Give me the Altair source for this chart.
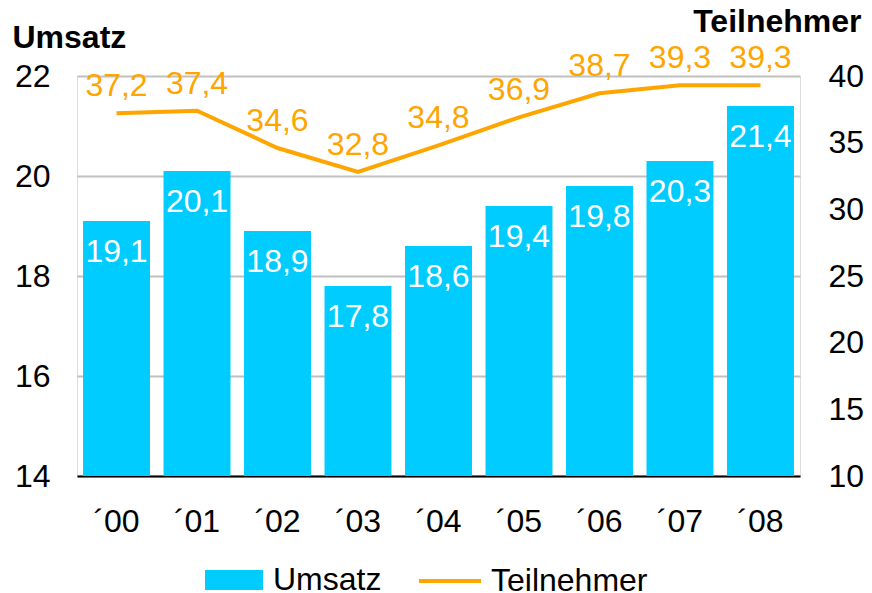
import altair as alt
import pandas as pd

years = ["´00", "´01", "´02", "´03", "´04", "´05", "´06", "´07", "´08"]
umsatz = [19.1, 20.1, 18.9, 17.8, 18.6, 19.4, 19.8, 20.3, 21.4]
teilnehmer = [37.2, 37.4, 34.6, 32.8, 34.8, 36.9, 38.7, 39.3, 39.3]

df = pd.DataFrame({
    "year": years,
    "umsatz": umsatz,
    "teilnehmer": teilnehmer,
    "s1": ["Umsatz"] * len(years),
    "s2": ["Teilnehmer"] * len(years),
})

FONT = "Liberation Sans"
FS = 32
CYAN = "#00CCFF"
ORANGE = "#FFA500"

base = alt.Chart(df).transform_calculate(
    ulab="replace(format(datum.umsatz, '.1f'), '.', ',')",
    tlab="replace(format(datum.teilnehmer, '.1f'), '.', ',')",
)

x = alt.X("year:N", sort=years, title=None,
          scale=alt.Scale(paddingInner=0.168, paddingOuter=0.075),
          axis=alt.Axis(labelAngle=0, labelFontSize=FS, labelColor="black",
                        labelPadding=30, ticks=False, domainColor="black",
                        domainWidth=2, labelFont=FONT))

yl_scale = alt.Scale(domain=[14, 22], zero=False, nice=False)
yl = alt.Y("umsatz:Q", scale=yl_scale,
           axis=alt.Axis(title="Umsatz", titleAngle=0, titleAlign="left",
                         titleBaseline="middle", titleX=-65, titleY=-39,
                         titleFontSize=FS, titleFontWeight="bold", titleFont=FONT,
                         titleLimit=400,
                         values=[14, 16, 18, 20, 22], grid=True,
                         gridColor="#c0c0c0", gridWidth=2, domain=False,
                         ticks=False, labelFontSize=FS, labelPadding=27,
                         labelColor="black", labelFont=FONT))

bars = base.mark_bar(color=CYAN).encode(
    x=x,
    y=yl,
    y2=alt.datum(14),
    fill=alt.Fill("s1:N", scale=alt.Scale(domain=["Umsatz"], range=[CYAN]),
                  legend=alt.Legend(title=None, orient="none", legendX=128,
                                    legendY=475, symbolType="M-1,-0.345H1V0.345H-1Z",
                                    symbolSize=3364, symbolStrokeWidth=0,
                                    labelFontSize=FS, labelFont=FONT,
                                    labelColor="black", labelOffset=10,
                                    labelLimit=400, padding=0)),
)

bar_text = base.mark_text(color="white", fontSize=FS, font=FONT,
                          baseline="middle", dy=31).encode(
    x=alt.X("year:N", sort=years),
    y=alt.Y("umsatz:Q", scale=yl_scale),
    text="ulab:N",
)

yr_scale = alt.Scale(domain=[10, 40], zero=False, nice=False)
yr = alt.Y("teilnehmer:Q", scale=yr_scale,
           axis=alt.Axis(orient="right", title="Teilnehmer", titleAngle=0,
                         titleAlign="right", titleBaseline="middle",
                         titleX=61, titleY=-55, titleFontSize=FS,
                         titleFontWeight="bold", titleFont=FONT,
                         titleLimit=400,
                         values=[10, 15, 20, 25, 30, 35, 40], grid=False,
                         domain=False, ticks=False, labelFontSize=FS,
                         labelPadding=28, labelColor="black", labelFont=FONT))

line = base.mark_line(strokeWidth=4).encode(
    x=alt.X("year:N", sort=years),
    y=yr,
    stroke=alt.Stroke("s2:N", scale=alt.Scale(domain=["Teilnehmer"], range=[ORANGE]),
                      legend=alt.Legend(title=None, orient="none", legendX=340,
                                        legendY=472, symbolType="stroke",
                                        symbolSize=3844, symbolStrokeWidth=4,
                                        labelFontSize=FS, labelFont=FONT,
                                        labelColor="black", labelOffset=8,
                                        labelLimit=400, padding=0)),
)

line_text = base.mark_text(color=ORANGE, fontSize=FS, font=FONT,
                           baseline="middle", dy=-27).encode(
    x=alt.X("year:N", sort=years),
    y=alt.Y("teilnehmer:Q", scale=yr_scale),
    text="tlab:N",
)

left = alt.layer(bars, bar_text)
right = alt.layer(line, line_text)

chart = alt.layer(left, right).resolve_scale(
    y="independent"
).properties(
    width=723,
    height=400,
    autosize=alt.AutoSizeParams(type="none"),
    padding={"left": 69, "top": 68, "right": 64, "bottom": 117},
).configure_view(stroke=None).configure(font=FONT)

chart.save("out.html", embed_options={"renderer": "svg", "actions": False})
